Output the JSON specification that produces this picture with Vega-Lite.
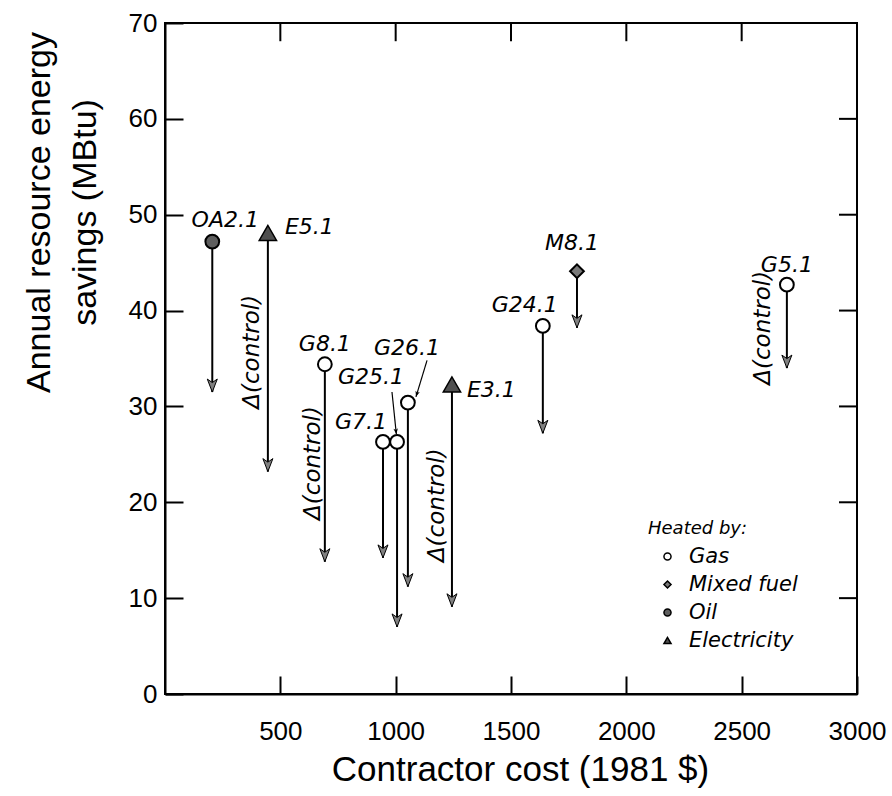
{
  "$schema": "https://vega.github.io/schema/vega-lite/v6.json",
  "width": 692,
  "height": 671,
  "autosize": {"type": "none"},
  "padding": {"left": 165, "top": 23, "right": 35, "bottom": 102},
  "background": "white",
  "config": {
    "view": {"stroke": "black", "strokeWidth": 2},
    "axis": {
      "domainColor": "black",
      "domainWidth": 2,
      "tickColor": "black",
      "tickWidth": 2,
      "grid": false,
      "labelColor": "black",
      "titleColor": "black",
      "labelFont": "Liberation Sans",
      "labelFontSize": 26,
      "titleFont": "Liberation Sans",
      "titleFontSize": 34,
      "titleFontWeight": "normal",
      "labelFlush": false,
      "labelOverlap": false
    },
    "text": {"font": "DejaVu Sans", "fontStyle": "italic", "fontSize": 22, "color": "black"},
    "legend": {
      "titleFont": "DejaVu Sans",
      "titleFontStyle": "italic",
      "titleFontWeight": "normal",
      "titleFontSize": 18,
      "titleColor": "black",
      "titlePadding": 8,
      "labelFont": "DejaVu Sans",
      "labelFontStyle": "italic",
      "labelFontSize": 21,
      "labelColor": "black",
      "symbolSize": 50,
      "symbolOffset": 9,
      "labelOffset": 11,
      "rowPadding": 6
    }
  },
  "datasets": {
    "houses": [
      {"name": "OA2.1", "fuel": "Oil", "cost": 205, "savings": 47.2, "end": 31.5},
      {"name": "E5.1", "fuel": "Electricity", "cost": 446, "savings": 48.1, "end": 23.2},
      {"name": "G8.1", "fuel": "Gas", "cost": 693, "savings": 34.4, "end": 13.8},
      {"name": "G7.1", "fuel": "Gas", "cost": 945, "savings": 26.3, "end": 14.2},
      {"name": "G25.1", "fuel": "Gas", "cost": 1006, "savings": 26.3, "end": 7.0},
      {"name": "G26.1", "fuel": "Gas", "cost": 1053, "savings": 30.4, "end": 11.2},
      {"name": "E3.1", "fuel": "Electricity", "cost": 1244, "savings": 32.3, "end": 9.1},
      {"name": "G24.1", "fuel": "Gas", "cost": 1638, "savings": 38.4, "end": 27.2},
      {"name": "M8.1", "fuel": "Mixed fuel", "cost": 1786, "savings": 44.1, "end": 38.2},
      {"name": "G5.1", "fuel": "Gas", "cost": 2696, "savings": 42.7, "end": 34.0}
    ],
    "leaders": [
      {"name": "G26.1", "cost": 1136, "savings": 34.8, "cost2": 1088, "savings2": 31.0},
      {"name": "G25.1", "cost": 984, "savings": 31.5, "cost2": 1003, "savings2": 27.1}
    ],
    "notes": [
      {"cost": 377, "savings": 35.7, "text": "Δ(control)"},
      {"cost": 641, "savings": 24.1, "text": "Δ(control)"},
      {"cost": 1179, "savings": 19.7, "text": "Δ(control)"},
      {"cost": 2592, "savings": 38.2, "text": "Δ(control)"}
    ],
    "costTicks": [
      {"cost": 500}, {"cost": 1000}, {"cost": 1500}, {"cost": 2000}, {"cost": 2500}
    ],
    "savingsTicks": [
      {"savings": 10}, {"savings": 20}, {"savings": 30}, {"savings": 40}, {"savings": 50}, {"savings": 60}
    ]
  },
  "layer": [
    {
      "data": {"name": "houses"},
      "mark": {"type": "rule", "stroke": "black", "strokeWidth": 2},
      "encoding": {
        "x": {
          "field": "cost",
          "type": "quantitative",
          "scale": {"domain": [0, 3000], "nice": false, "zero": false},
          "axis": {
            "orient": "bottom",
            "values": [500, 1000, 1500, 2000, 2500, 3000],
            "format": "d",
            "tickSize": -18,
            "labelPadding": 42,
            "title": "Contractor cost (1981 $)",
            "titleFontSize": 35,
            "titleX": 355,
            "titleY": 58,
            "titleBaseline": "top"
          }
        },
        "y": {
          "field": "savings",
          "type": "quantitative",
          "scale": {"domain": [0, 70], "nice": false, "zero": false},
          "axis": {
            "orient": "left",
            "values": [0, 10, 20, 30, 40, 50, 60, 70],
            "tickSize": -18,
            "labelPadding": 26,
            "title": ["Annual resource energy", "savings (MBtu)"],
            "titleX": -143,
            "titleY": 189,
            "titleAngle": -90,
            "titleAlign": "center",
            "titleBaseline": "top",
            "titleLineHeight": 46
          }
        },
        "y2": {"field": "end"}
      }
    },
    {
      "data": {"name": "costTicks"},
      "mark": {"type": "rule", "stroke": "black", "strokeWidth": 2},
      "encoding": {
        "x": {"field": "cost", "type": "quantitative"},
        "y": {"datum": 70, "type": "quantitative"},
        "y2": {"datum": 68.1}
      }
    },
    {
      "data": {"name": "savingsTicks"},
      "mark": {"type": "rule", "stroke": "black", "strokeWidth": 2},
      "encoding": {
        "y": {"field": "savings", "type": "quantitative"},
        "x": {"datum": 3000, "type": "quantitative"},
        "x2": {"datum": 2922}
      }
    },
    {
      "data": {"name": "houses"},
      "mark": {
        "type": "point",
        "shape": "M-1,-2.6L0,0L1,-2.6L0,-1.9Z",
        "size": 100,
        "filled": true,
        "fill": "#808080",
        "stroke": "black",
        "strokeWidth": 1,
        "opacity": 1
      },
      "encoding": {
        "x": {"field": "cost", "type": "quantitative"},
        "y": {"field": "end", "type": "quantitative"}
      }
    },
    {
      "data": {"name": "leaders"},
      "mark": {"type": "rule", "stroke": "black", "strokeWidth": 1.2},
      "encoding": {
        "x": {"field": "cost", "type": "quantitative"},
        "y": {"field": "savings", "type": "quantitative"},
        "x2": {"field": "cost2"},
        "y2": {"field": "savings2"}
      }
    },
    {
      "data": {"name": "leaders"},
      "transform": [{"filter": {"field": "name", "equal": "G26.1"}}],
      "mark": {"type": "point", "shape": "M-1,-2.6L0,0L1,-2.6L0,-1.9Z", "size": 20, "filled": true, "fill": "black", "angle": 17, "opacity": 1},
      "encoding": {
        "x": {"field": "cost2", "type": "quantitative"},
        "y": {"field": "savings2", "type": "quantitative"}
      }
    },
    {
      "data": {"name": "leaders"},
      "transform": [{"filter": {"field": "name", "equal": "G25.1"}}],
      "mark": {"type": "point", "shape": "M-1,-2.6L0,0L1,-2.6L0,-1.9Z", "size": 20, "filled": true, "fill": "black", "angle": -7, "opacity": 1},
      "encoding": {
        "x": {"field": "cost2", "type": "quantitative"},
        "y": {"field": "savings2", "type": "quantitative"}
      }
    },
    {
      "data": {"name": "houses"},
      "transform": [{"filter": {"field": "fuel", "oneOf": ["Gas", "Mixed fuel", "Oil"]}}],
      "mark": {"type": "point", "filled": true, "stroke": "black", "strokeWidth": 2, "size": 190, "opacity": 1},
      "encoding": {
        "x": {"field": "cost", "type": "quantitative"},
        "y": {"field": "savings", "type": "quantitative"},
        "shape": {
          "field": "fuel",
          "type": "nominal",
          "scale": {"domain": ["Gas", "Mixed fuel", "Oil", "Electricity"], "range": ["circle", "diamond", "circle", "triangle-up"]},
          "legend": {
            "title": "Heated by:",
            "orient": "none",
            "legendX": 483,
            "legendY": 497,
            "encode": {"symbols": {"update": {"stroke": {"value": "black"}, "strokeWidth": {"value": 1.2}}}}
          }
        },
        "fill": {
          "field": "fuel",
          "type": "nominal",
          "scale": {"domain": ["Gas", "Mixed fuel", "Oil", "Electricity"], "range": ["white", "#7a7a7a", "#5e5e5e", "#505050"]},
          "legend": {
            "title": "Heated by:",
            "orient": "none",
            "legendX": 483,
            "legendY": 497,
            "encode": {"symbols": {"update": {"stroke": {"value": "black"}, "strokeWidth": {"value": 1.2}}}}
          }
        }
      }
    },
    {
      "data": {"name": "houses"},
      "transform": [{"filter": {"field": "fuel", "equal": "Electricity"}}],
      "mark": {"type": "point", "filled": true, "stroke": "black", "strokeWidth": 1.5, "size": 300, "opacity": 1},
      "encoding": {
        "x": {"field": "cost", "type": "quantitative"},
        "y": {"field": "savings", "type": "quantitative"},
        "shape": {"field": "fuel", "type": "nominal"},
        "fill": {"field": "fuel", "type": "nominal"}
      }
    },
    {
      "data": {"name": "notes"},
      "mark": {"type": "text", "angle": -90, "align": "center", "baseline": "middle", "fontSize": 23},
      "encoding": {
        "x": {"field": "cost", "type": "quantitative"},
        "y": {"field": "savings", "type": "quantitative"},
        "text": {"field": "text"}
      }
    },
    {
      "data": {"name": "houses"},
      "transform": [{"filter": {"field": "name", "oneOf": ["G8.1", "G5.1"]}}],
      "mark": {"type": "text", "align": "center", "baseline": "middle", "dy": -20},
      "encoding": {
        "x": {"field": "cost", "type": "quantitative"},
        "y": {"field": "savings", "type": "quantitative"},
        "text": {"field": "name"}
      }
    },
    {
      "data": {"name": "houses"},
      "transform": [{"filter": {"field": "name", "equal": "OA2.1"}}],
      "mark": {"type": "text", "align": "center", "baseline": "middle", "dx": 13, "dy": -22},
      "encoding": {
        "x": {"field": "cost", "type": "quantitative"},
        "y": {"field": "savings", "type": "quantitative"},
        "text": {"field": "name"}
      }
    },
    {
      "data": {"name": "houses"},
      "transform": [{"filter": {"field": "name", "equal": "M8.1"}}],
      "mark": {"type": "text", "align": "center", "baseline": "middle", "dx": -5, "dy": -28},
      "encoding": {
        "x": {"field": "cost", "type": "quantitative"},
        "y": {"field": "savings", "type": "quantitative"},
        "text": {"field": "name"}
      }
    },
    {
      "data": {"name": "houses"},
      "transform": [{"filter": {"field": "name", "equal": "G24.1"}}],
      "mark": {"type": "text", "align": "right", "baseline": "middle", "dx": 15, "dy": -21},
      "encoding": {
        "x": {"field": "cost", "type": "quantitative"},
        "y": {"field": "savings", "type": "quantitative"},
        "text": {"field": "name"}
      }
    },
    {
      "data": {"name": "houses"},
      "transform": [{"filter": {"field": "name", "equal": "G7.1"}}],
      "mark": {"type": "text", "align": "right", "baseline": "middle", "dx": 4, "dy": -20},
      "encoding": {
        "x": {"field": "cost", "type": "quantitative"},
        "y": {"field": "savings", "type": "quantitative"},
        "text": {"field": "name"}
      }
    },
    {
      "data": {"name": "houses"},
      "transform": [{"filter": {"field": "name", "equal": "E5.1"}}],
      "mark": {"type": "text", "align": "left", "baseline": "middle", "dx": 17, "dy": -6},
      "encoding": {
        "x": {"field": "cost", "type": "quantitative"},
        "y": {"field": "savings", "type": "quantitative"},
        "text": {"field": "name"}
      }
    },
    {
      "data": {"name": "houses"},
      "transform": [{"filter": {"field": "name", "equal": "E3.1"}}],
      "mark": {"type": "text", "align": "left", "baseline": "middle", "dx": 15, "dy": 6},
      "encoding": {
        "x": {"field": "cost", "type": "quantitative"},
        "y": {"field": "savings", "type": "quantitative"},
        "text": {"field": "name"}
      }
    },
    {
      "data": {"name": "houses"},
      "transform": [{"filter": {"field": "name", "equal": "G25.1"}}],
      "mark": {"type": "text", "align": "center", "baseline": "middle", "dx": -26, "dy": -65},
      "encoding": {
        "x": {"field": "cost", "type": "quantitative"},
        "y": {"field": "savings", "type": "quantitative"},
        "text": {"field": "name"}
      }
    },
    {
      "data": {"name": "houses"},
      "transform": [{"filter": {"field": "name", "equal": "G26.1"}}],
      "mark": {"type": "text", "align": "center", "baseline": "middle", "dx": -1, "dy": -55},
      "encoding": {
        "x": {"field": "cost", "type": "quantitative"},
        "y": {"field": "savings", "type": "quantitative"},
        "text": {"field": "name"}
      }
    }
  ]
}
